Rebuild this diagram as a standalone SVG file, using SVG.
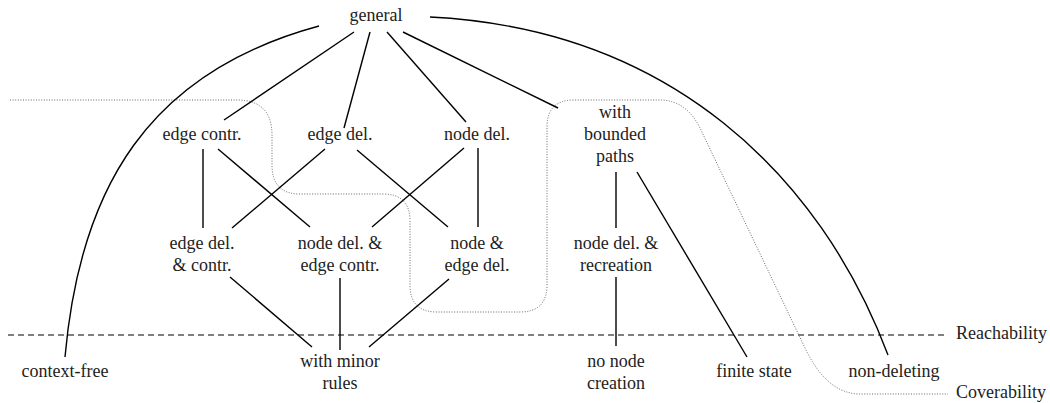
<svg xmlns="http://www.w3.org/2000/svg" width="1050" height="403" viewBox="0 0 1050 403">
<style>
text{font-size:18px;fill:#222;text-anchor:middle}
.lbl{text-anchor:start}
.e{stroke:#000;stroke-width:1.4;fill:none}
.dash{stroke:#000;stroke-width:1.1;fill:none;stroke-dasharray:6 4}
.dot{stroke:#555;stroke-width:0.9;fill:none;stroke-dasharray:1 1.6}
</style>
<rect width="1050" height="403" fill="#fff"/>
<g font-family="Liberation Serif, DejaVu Serif, serif">
<g id="boundaries">
<path class="dash" d="M8,335 H948"/>
<path class="dot" d="M10,100 H237 Q272,100 272,135 V165 Q272,194 300,194 H383 Q410,194 410,221 V285 Q410,312 437,312 H520 Q547,312 547,285 V127 Q547,100 574,100 H660 Q686,100 700,128 L805,348 Q827,394 860,394 H948"/>
<text class="lbl" x="956" y="339">Reachability</text>
<text class="lbl" x="956" y="398">Coverability</text>
</g>
<g id="connectors">
<path class="e" d="M319,26 C149,72 80,187 65,357"/>
<path class="e" d="M430,17 C670,29 820,175 888,355"/>
<line class="e" x1="354" y1="32" x2="224" y2="120"/>
<line class="e" x1="370" y1="32" x2="344" y2="128"/>
<line class="e" x1="387" y1="32" x2="466" y2="122"/>
<line class="e" x1="403" y1="32" x2="558" y2="108"/>
<line class="e" x1="203" y1="149" x2="203" y2="228"/>
<line class="e" x1="218" y1="149" x2="310" y2="227"/>
<line class="e" x1="325" y1="149" x2="232" y2="228"/>
<line class="e" x1="357" y1="150" x2="448" y2="227"/>
<line class="e" x1="464" y1="148" x2="372" y2="227"/>
<line class="e" x1="478" y1="148" x2="478" y2="227"/>
<line class="e" x1="616" y1="172" x2="616" y2="228"/>
<line class="e" x1="637" y1="172" x2="747" y2="357"/>
<line class="e" x1="230" y1="277" x2="312" y2="347"/>
<line class="e" x1="340" y1="278" x2="340" y2="350"/>
<line class="e" x1="449" y1="279" x2="369" y2="347"/>
<line class="e" x1="616" y1="277" x2="616" y2="346"/>
</g>
<g id="general"><text x="376" y="21">general</text></g>
<g id="edge-contr"><text x="202" y="140">edge contr.</text></g>
<g id="edge-del"><text x="340" y="140">edge del.</text></g>
<g id="node-del"><text x="477" y="140">node del.</text></g>
<g id="bounded-paths"><text x="615" y="118">with</text><text x="615" y="140">bounded</text><text x="615" y="162">paths</text></g>
<g id="edge-del-contr"><text x="202" y="249">edge del.</text><text x="202" y="271">&amp; contr.</text></g>
<g id="node-del-edge-contr"><text x="340" y="249">node del. &amp;</text><text x="340" y="271">edge contr.</text></g>
<g id="node-edge-del"><text x="477" y="249">node &amp;</text><text x="477" y="271">edge del.</text></g>
<g id="node-del-recreation"><text x="616" y="249">node del. &amp;</text><text x="616" y="271">recreation</text></g>
<g id="context-free"><text x="65" y="377">context-free</text></g>
<g id="minor-rules"><text x="340" y="367">with minor</text><text x="340" y="389">rules</text></g>
<g id="no-node-creation"><text x="616" y="367">no node</text><text x="616" y="389">creation</text></g>
<g id="finite-state"><text x="754" y="377">finite state</text></g>
<g id="non-deleting"><text x="894" y="377">non-deleting</text></g>
</g>
</svg>
